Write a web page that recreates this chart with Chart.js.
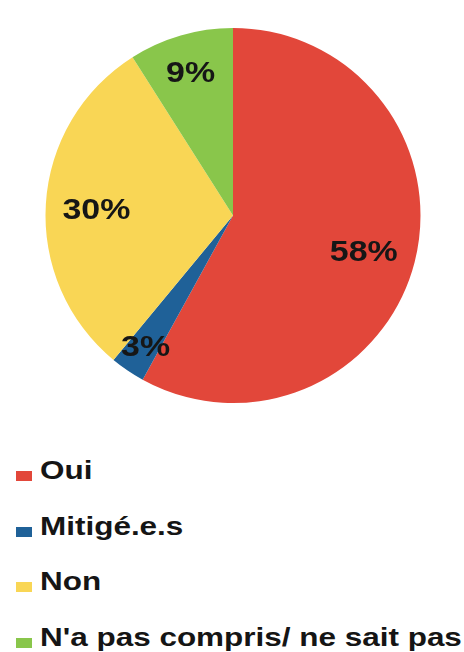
<!DOCTYPE html>
<html lang="fr">
<head>
<meta charset="utf-8">
<title>Répartition des réponses</title>
<script src="https://cdn.jsdelivr.net/npm/chart.js@4/dist/chart.umd.min.js"></script>
<style>
    html, body { margin: 0; padding: 0; background: #fff; }
    body { width: 464px; height: 652px; position: relative; overflow: hidden; font-family: "Liberation Sans", Arial, sans-serif; }
    #pie { position: absolute; left: 0; top: 0; }
    #legend { position: absolute; left: 0; top: 443px; margin: 0; padding: 0; list-style: none; }
    #legend li { position: relative; height: 55.5px; line-height: 55.5px; font-size: 26px; font-weight: bold; color: #151515; white-space: nowrap; }
    #legend .box { position: absolute; left: 16px; top: 28px; width: 16px; height: 10px; }
    #legend .txt { position: absolute; left: 40px; top: 0; transform: scaleX(1.21); transform-origin: left center; }
</style>
</head>
<body>
<canvas id="pie" width="464" height="431"></canvas>
<ul id="legend"></ul>
<script>
// chart data
const labels = ['Oui', 'Mitigé.e.s', 'Non', "N'a pas compris/ ne sait pas"];
const values = [58, 3, 30, 9];
const colors = ['#e2473a', '#1f6198', '#f9d655', '#89c64b'];

// how far out (fraction of the radius) each percentage sits
const labelOffsets = [0.72, 0.83, 0.73, 0.81];

const percentLabels = {
    id: 'percentLabels',
    afterDatasetsDraw(chart) {
        const ctx = chart.ctx;
        const meta = chart.getDatasetMeta(0);
        const total = values.reduce((a, b) => a + b, 0);
        ctx.save();
        ctx.font = 'bold 29px "Liberation Sans", Arial, sans-serif';
        ctx.fillStyle = '#161616';
        ctx.textAlign = 'center';
        ctx.textBaseline = 'middle';
        meta.data.forEach((arc, i) => {
            const { x, y, startAngle, endAngle, outerRadius } = arc.getProps(['x', 'y', 'startAngle', 'endAngle', 'outerRadius'], true);
            const mid = (startAngle + endAngle) / 2;
            const r = outerRadius * labelOffsets[i];
            const text = Math.round(values[i] / total * 100) + '%';
            ctx.save();
            ctx.translate(x + Math.cos(mid) * r, y + Math.sin(mid) * r);
            ctx.scale(1.17, 1);
            ctx.fillText(text, 0, 4);
            ctx.restore();
        });
        ctx.restore();
    }
};

const chart = new Chart(document.getElementById('pie'), {
    type: 'pie',
    data: {
        labels: labels,
        datasets: [{
            data: values,
            backgroundColor: colors,
            borderWidth: 0
        }]
    },
    options: {
        responsive: false,
        animation: false,
        layout: { padding: { left: 45, right: 43, top: 28, bottom: 28 } },
        plugins: {
            legend: { display: false },
            tooltip: { enabled: false }
        }
    },
    plugins: [percentLabels]
});

// legend below the pie, one entry per line
const legendEl = document.getElementById('legend');
chart.options.plugins.legend.labels.generateLabels(chart).forEach(item => {
    const li = document.createElement('li');
    li.innerHTML = `<span class="box" style="background:${item.fillStyle}"></span><span class="txt"></span>`;
    li.querySelector('.txt').textContent = item.text;
    legendEl.appendChild(li);
});
</script>
</body>
</html>
